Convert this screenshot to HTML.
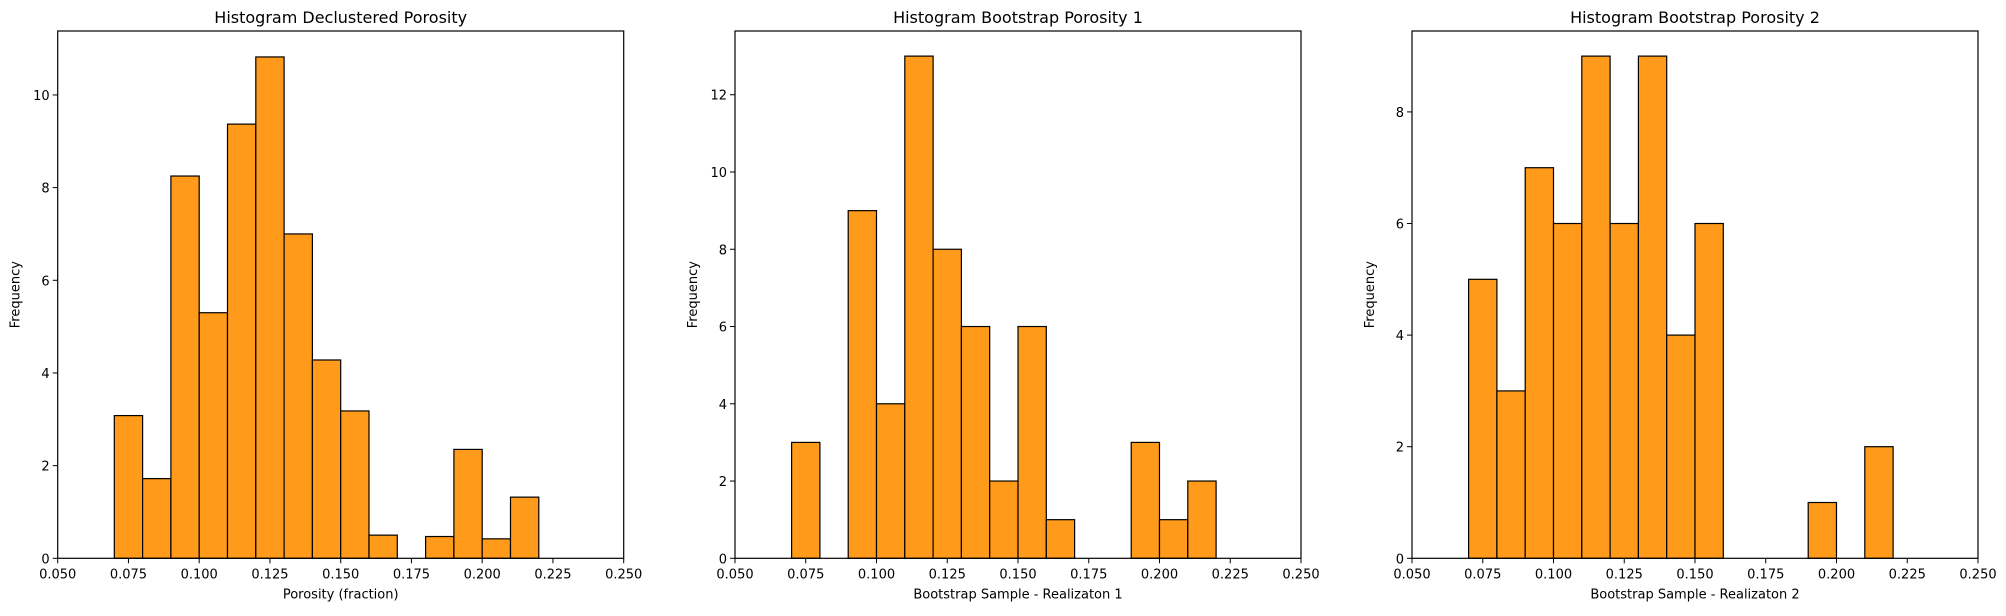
<!DOCTYPE html>
<html><head><meta charset="utf-8"><style>
body{margin:0;background:#fff;}
svg text{font-family:"DejaVu Sans","Liberation Sans",sans-serif;fill:#000;}
</style></head><body>
<svg id="fig" width="2006" height="611" xmlns="http://www.w3.org/2000/svg"></svg>
<script>
const binStarts = [0.07,0.08,0.09,0.10,0.11,0.12,0.13,0.14,0.15,0.16,0.17,0.18,0.19,0.20,0.21];
const valsDeclustered = [3.08,1.72,8.25,5.3,9.37,10.82,7.0,4.28,3.18,0.5,0,0.47,2.35,0.42,1.32];
const valsBoot1 = [3,0,9,4,13,8,6,2,6,1,0,0,3,1,2];
const valsBoot2 = [5,3,7,6,9,6,9,4,6,0,0,0,1,0,2];
const xTicks = [0.050,0.075,0.100,0.125,0.150,0.175,0.200,0.225,0.250];
const yTicks1 = [0,2,4,6,8,10];
const yTicks2 = [0,2,4,6,8,10,12];
const yTicks3 = [0,2,4,6,8];
const titles = ["Histogram Declustered Porosity","Histogram Bootstrap Porosity 1","Histogram Bootstrap Porosity 2"];
const xLabels = ["Porosity (fraction)","Bootstrap Sample - Realizaton 1","Bootstrap Sample - Realizaton 2"];
const yMaxes = [11.38,13.65,9.45];

const NS="http://www.w3.org/2000/svg";
const svg=document.getElementById('fig');
function mk(tag,attrs,parent){const e=document.createElementNS(NS,tag);for(const k in attrs)e.setAttribute(k,attrs[k]);(parent||svg).appendChild(e);return e;}
const panels=[{l:57.7,vals:valsDeclustered,yt:yTicks1},{l:735,vals:valsBoot1,yt:yTicks2},{l:1412,vals:valsBoot2,yt:yTicks3}];
const W=566, axTop=31, bot=558.3;
panels.forEach((p,i)=>{
  const g=mk('g',{});
  
  
  const xs=v=>p.l+(v-0.05)/0.2*W;
  const ys=v=>bot-v/yMaxes[i]*(bot-axTop);
  p.vals.forEach((v,j)=>{
    if(v<=0)return;
    const r=mk('rect',{x:xs(binStarts[j]),y:ys(v),width:xs(binStarts[j]+0.01)-xs(binStarts[j]),height:bot-ys(v),fill:'#ff9a1a',stroke:'#000','stroke-width':1.2},g);
    
    
  });
  const fr=mk('rect',{x:p.l,y:axTop,width:W,height:bot-axTop,fill:'none',stroke:'#000','stroke-width':1.2},g);
  
  
  xTicks.forEach(t=>{
    const x=xs(t);
    mk('line',{x1:x,x2:x,y1:bot,y2:bot+5,stroke:'#000','stroke-width':1},g);
    const tx=mk('text',{x:x,y:bot+20,'text-anchor':'middle','font-size':13},g);
    tx.textContent=t.toFixed(3);
    
    
  });
  p.yt.forEach(t=>{
    const y=ys(t);
    mk('line',{x1:p.l-5,x2:p.l,y1:y,y2:y,stroke:'#000','stroke-width':1},g);
    const tx=mk('text',{x:p.l-8,y:y+5,'text-anchor':'end','font-size':13},g);
    tx.textContent=t;
    
    
  });
  const ti=mk('text',{x:p.l+W/2,y:axTop-8,'text-anchor':'middle','font-size':16},g);
  ti.textContent=titles[i];
  
  
  const xl=mk('text',{x:p.l+W/2,y:bot+40,'text-anchor':'middle','font-size':13},g);
  xl.textContent=xLabels[i];
  
  
  const yl=mk('text',{x:0,y:0,'text-anchor':'middle','font-size':13,transform:`translate(${p.l-38},${(axTop+bot)/2}) rotate(-90)`},g);
  yl.textContent='Frequency';
  
  
});
</script>
</body></html>
